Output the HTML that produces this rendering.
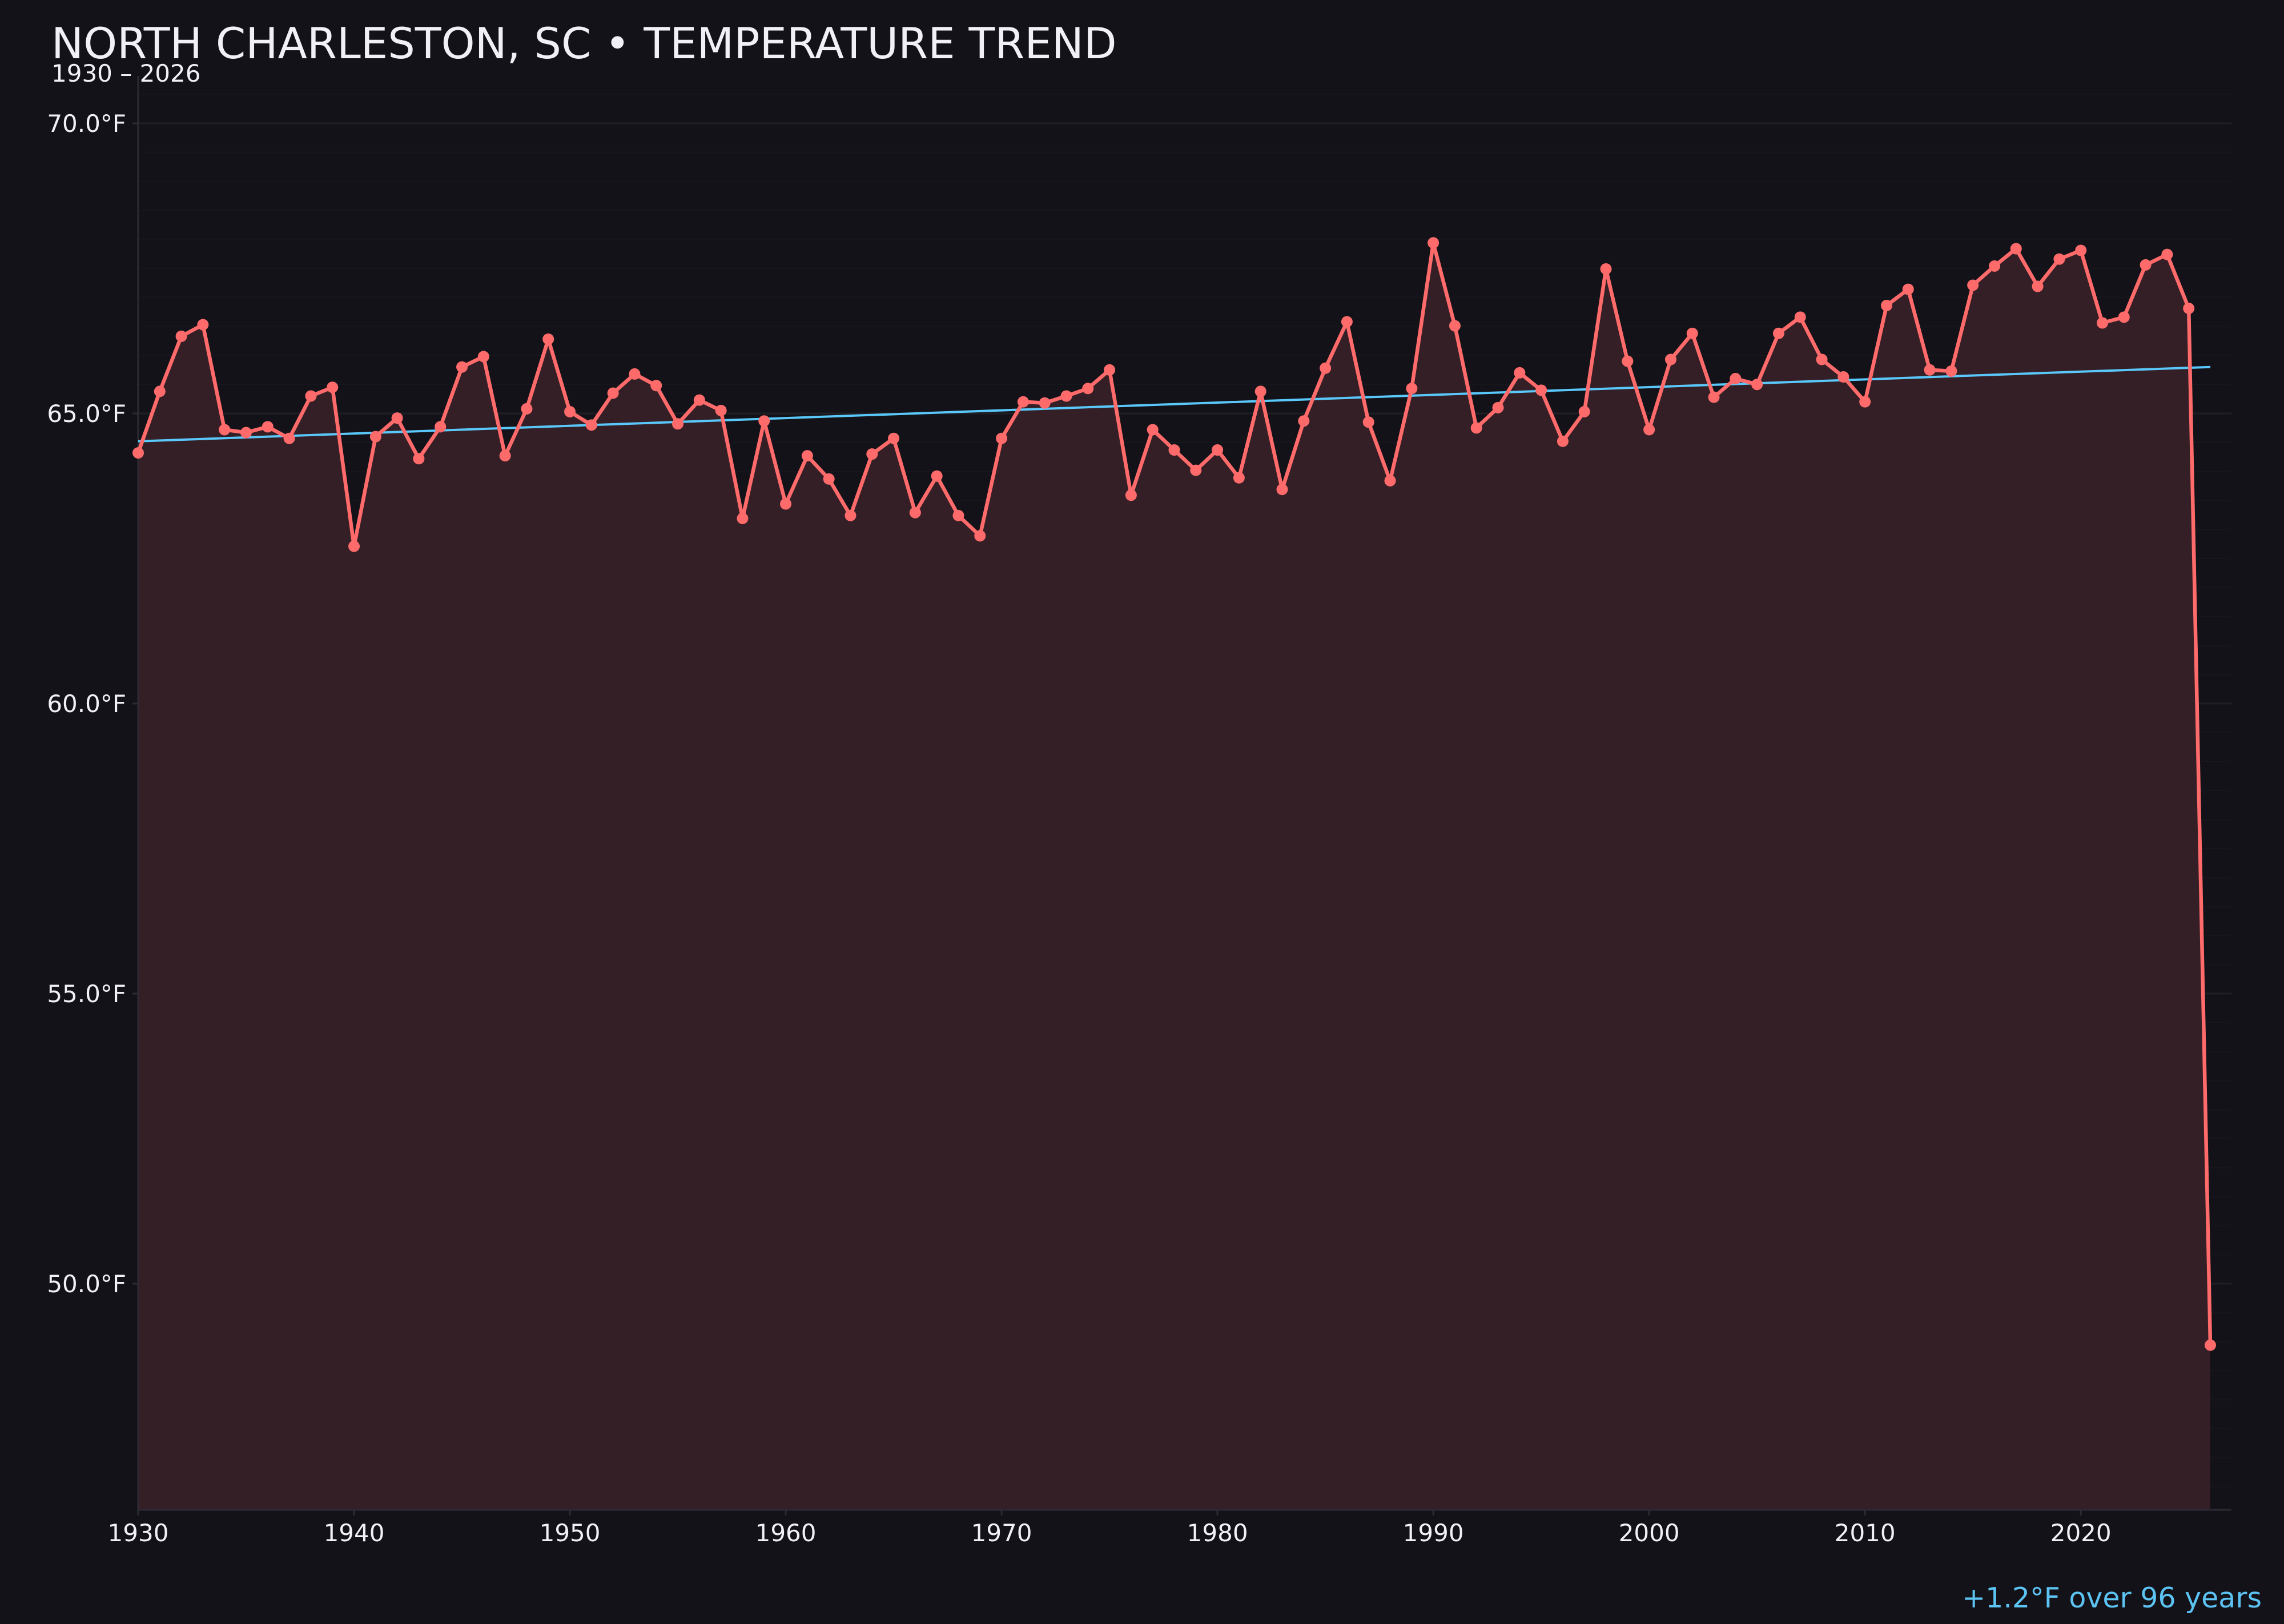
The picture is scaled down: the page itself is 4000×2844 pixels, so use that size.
<!DOCTYPE html>
<html><head><meta charset="utf-8"><style>
html,body{margin:0;padding:0;background:#131218;}
svg{display:block;}
text{font-family:"DejaVu Sans","Liberation Sans",sans-serif;}
</style></head><body>
<svg id="chart" width="4000" height="2844" viewBox="0 0 4000 2844" xmlns="http://www.w3.org/2000/svg">
<rect x="0" y="0" width="4000" height="2844" fill="#131218"/>
<text x="90" y="102" font-size="75" fill="#f1f0f6">NORTH CHARLESTON, SC • TEMPERATURE TREND</text>
<text x="90" y="143" font-size="42" fill="#f1f0f6">1930 – 2026</text>
<g id="grid"></g>
<g id="area"></g>
<g id="axes"></g>
<g id="marks"></g>
<text x="3961" y="2815" font-size="49" fill="#5cc3f2" text-anchor="end">+1.2°F over 96 years</text>
</svg>
<script>
const years = [];
for (let y = 1930; y <= 2026; y++) years.push(y);
const temps = [64.32,65.38,66.33,66.53,64.72,64.67,64.77,64.57,65.30,65.45,
62.71,64.60,64.92,64.22,64.77,65.80,65.98,64.27,65.08,66.28,
65.03,64.80,65.35,65.68,65.48,64.82,65.23,65.05,63.19,64.87,
63.44,64.27,63.87,63.24,64.30,64.57,63.29,63.92,63.24,62.89,
64.57,65.20,65.18,65.30,65.43,65.75,63.59,64.72,64.37,64.02,
64.37,63.89,65.38,63.69,64.87,65.78,66.58,64.85,63.84,65.43,
67.94,66.51,64.75,65.10,65.70,65.40,64.52,65.03,67.49,65.90,
64.72,65.93,66.38,65.28,65.60,65.50,66.38,66.66,65.93,65.63,
65.20,66.86,67.14,65.75,65.73,67.21,67.54,67.84,67.19,67.66,
67.81,66.56,66.66,67.56,67.74,66.81,48.94];
const trendYears = [1930, 2026];
const trendValues = [64.52, 65.80];
const yTicks = [50, 55, 60, 65, 70];
const xTicks = [1930,1940,1950,1960,1970,1980,1990,2000,2010,2020];

const NS = "http://www.w3.org/2000/svg";
const L = 242, R = 3908, T = 133, B = 2644;
const xMin = 1930, xPxPerYr = (3871 - 242) / 96;
const yTop70 = 216, yPxPerDeg = 101.6;
const x = v => L + (v - xMin) * xPxPerYr;
const y = v => yTop70 + (70 - v) * yPxPerDeg;
function mk(tag, attrs, parent) {
  const e = document.createElementNS(NS, tag);
  for (const k in attrs) e.setAttribute(k, attrs[k]);
  parent.appendChild(e);
  return e;
}
const grid = document.getElementById('grid');
for (let v = 46.5; v <= 70.5; v += 0.5) {
  const major = Math.abs(v % 5) < 1e-9;
  const ln = mk('line', {x1: L, x2: R, y1: y(v), y2: y(v), stroke: major ? '#201f26' : '#17161c', 'stroke-width': major ? 3 : 2}, grid);
  
  
}
const area = document.getElementById('area');
let d = `M${x(years[0])},${B-2}`;
years.forEach((yr, i) => { d += ` L${x(yr)},${y(temps[i])}`; });
d += ` L${x(years[years.length-1])},${B-2} Z`;
const ap = mk('path', {d: d, fill: '#351f26'}, area);



const axes = document.getElementById('axes');
const ya = mk('line', {x1: L, x2: L, y1: T, y2: B, stroke: '#2c2b33', 'stroke-width': 3}, axes);


const xa = mk('line', {x1: L, x2: R, y1: B, y2: B, stroke: '#2c2b33', 'stroke-width': 3}, axes);


yTicks.forEach(v => {
  const tk = mk('line', {x1: L-10, x2: L, y1: y(v), y2: y(v), stroke: '#2c2b33', 'stroke-width': 3}, axes);
  
  
  const t = mk('text', {x: 221, y: y(v) + 15, 'font-size': 42, fill: '#f1f0f6', 'text-anchor': 'end'}, axes);
  t.textContent = v.toFixed(1) + '°F';
  
  
});
xTicks.forEach(v => {
  const tk = mk('line', {x1: x(v), x2: x(v), y1: B, y2: B+10, stroke: '#2c2b33', 'stroke-width': 3}, axes);
  
  
  const t = mk('text', {x: x(v), y: 2699, 'font-size': 42, fill: '#f1f0f6', 'text-anchor': 'middle'}, axes);
  t.textContent = String(v);
  
  
});

const marks = document.getElementById('marks');
const tl = mk('line', {x1: x(trendYears[0]), y1: y(trendValues[0]), x2: x(trendYears[1]), y2: y(trendValues[1]), stroke: '#5ac8fa', 'stroke-width': 4}, marks);


const pts = years.map((yr, i) => `${x(yr)},${y(temps[i])}`).join(' ');
const pl = mk('polyline', {points: pts, fill: 'none', stroke: '#ff6b6b', 'stroke-width': 6.5, 'stroke-linejoin': 'round'}, marks);


years.forEach((yr, i) => {
  const c = mk('circle', {cx: x(yr), cy: y(temps[i]), r: 10, fill: '#ff6b6b'}, marks);
  
  
});
</script>
</body></html>
